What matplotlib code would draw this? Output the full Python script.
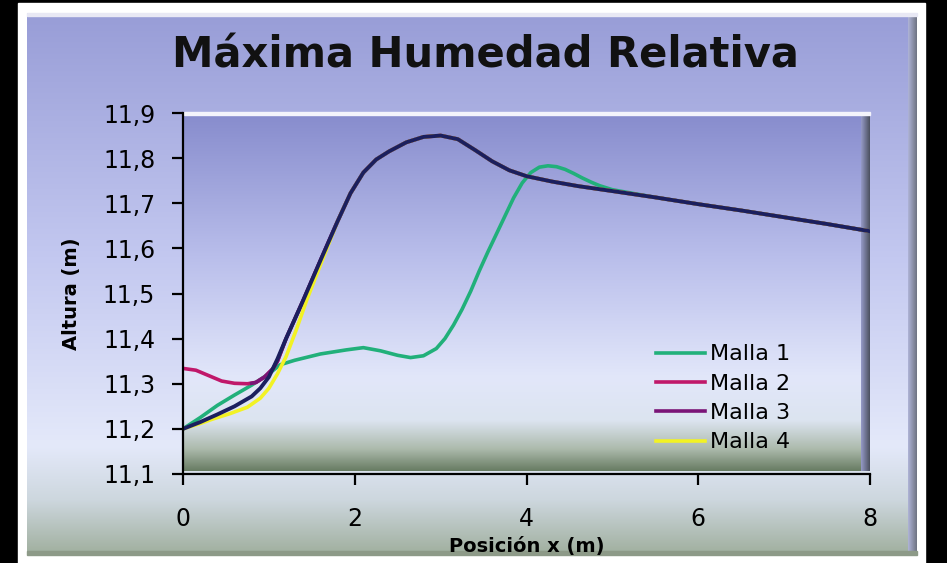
import numpy as np
import matplotlib.pyplot as plt
from matplotlib.patches import Rectangle

# Malla 1
x_m1 = [0, 0.2, 0.4, 0.6, 0.8, 1.0, 1.13, 1.3, 1.6, 1.9, 2.1, 2.3, 2.5, 2.65, 2.8,
        2.95, 3.05, 3.15, 3.25, 3.35, 3.45, 3.55, 3.65, 3.75, 3.85, 3.95, 4.05, 4.15,
        4.25, 4.35, 4.45, 4.55, 4.65, 4.75, 4.85, 5.0, 5.5, 6.0, 6.5, 7.0, 7.5, 8.0]
y_m1 = [11.2, 11.225, 11.252, 11.275, 11.297, 11.322, 11.342, 11.352, 11.366, 11.375,
        11.38, 11.373, 11.363, 11.358, 11.362, 11.378, 11.4, 11.43, 11.465, 11.505,
        11.55, 11.592, 11.632, 11.672, 11.712, 11.745, 11.768, 11.78, 11.783, 11.781,
        11.775, 11.766, 11.756, 11.747, 11.739, 11.73, 11.713, 11.698, 11.684, 11.669,
        11.654, 11.638]

# Malla 2
x_m2 = [0, 0.15, 0.3, 0.45, 0.6, 0.75, 0.85, 0.95, 1.05, 1.1, 1.2, 1.4, 1.6, 1.8,
        1.95, 2.1, 2.25, 2.4, 2.6, 2.8, 3.0, 3.2, 3.4, 3.6, 3.8, 4.0, 4.3, 4.6, 5.0,
        5.5, 6.0, 6.5, 7.0, 7.5, 8.0]
y_m2 = [11.334, 11.33, 11.318, 11.306, 11.301, 11.3, 11.303, 11.315, 11.334, 11.35,
        11.4, 11.485, 11.573, 11.66, 11.722, 11.768, 11.797, 11.815, 11.835, 11.847,
        11.85, 11.842, 11.818, 11.793, 11.773, 11.76, 11.748, 11.738, 11.727, 11.713,
        11.698, 11.684, 11.669, 11.654, 11.638]

# Malla 3
x_m3 = [0.8, 0.85, 0.95, 1.05, 1.1, 1.2, 1.4, 1.6, 1.8, 1.95, 2.1, 2.25, 2.4, 2.6,
        2.8, 3.0, 3.2, 3.4, 3.6, 3.8, 4.0, 4.3, 4.6, 5.0, 5.5, 6.0, 6.5, 7.0, 7.5, 8.0]
y_m3 = [11.301, 11.303, 11.315, 11.334, 11.35, 11.4, 11.485, 11.573, 11.66, 11.722,
        11.768, 11.797, 11.815, 11.835, 11.847, 11.85, 11.842, 11.818, 11.793, 11.773,
        11.76, 11.748, 11.738, 11.727, 11.713, 11.698, 11.684, 11.669, 11.654, 11.638]

# Malla 4
x_m4 = [0, 0.2, 0.35, 0.55, 0.75, 0.9, 1.0, 1.1, 1.2, 1.32, 1.44, 1.62, 1.8, 1.95,
        2.1, 2.25, 2.4, 2.6, 2.8, 3.0, 3.2, 3.4, 3.6, 3.8, 4.0, 4.3, 4.6, 5.0, 5.5,
        6.0, 6.5, 7.0, 7.5, 8.0]
y_m4 = [11.2, 11.212, 11.222, 11.234, 11.248, 11.268, 11.29, 11.322, 11.36, 11.42,
        11.485, 11.573, 11.66, 11.722, 11.768, 11.797, 11.815, 11.835, 11.847, 11.85,
        11.842, 11.818, 11.793, 11.773, 11.76, 11.748, 11.738, 11.727, 11.713,
        11.698, 11.684, 11.669, 11.654, 11.638]

# serie sin leyenda (azul oscuro)
x_m5 = [0, 0.2, 0.4, 0.6, 0.8, 0.9, 1.0, 1.1, 1.2, 1.4, 1.6, 1.8, 1.95, 2.1, 2.25,
        2.4, 2.6, 2.8, 3.0, 3.2, 3.4, 3.6, 3.8, 4.0, 4.3, 4.6, 5.0, 5.5, 6.0, 6.5,
        7.0, 7.5, 8.0]
y_m5 = [11.2, 11.215, 11.232, 11.25, 11.272, 11.29, 11.315, 11.355, 11.4, 11.485,
        11.573, 11.66, 11.722, 11.768, 11.797, 11.815, 11.835, 11.847, 11.85, 11.842,
        11.818, 11.793, 11.773, 11.76, 11.748, 11.738, 11.727, 11.713, 11.698,
        11.684, 11.669, 11.654, 11.638]

y_ticks = [11.1, 11.2, 11.3, 11.4, 11.5, 11.6, 11.7, 11.8, 11.9]
y_tick_labels = ['11,1', '11,2', '11,3', '11,4', '11,5', '11,6', '11,7', '11,8', '11,9']
x_ticks = [0, 2, 4, 6, 8]

W, H = 947, 563
fig = plt.figure(figsize=(W / 100, H / 100), dpi=100, facecolor='black')

# fondo en pixeles
bg = fig.add_axes([0, 0, 1, 1])
bg.set_xlim(0, W)
bg.set_ylim(H, 0)
bg.axis('off')


def vgrad(ax, x0, x1, y0, y1, stops, z):
    pos = [s[0] for s in stops]
    cols = np.array([s[1] for s in stops]) / 255.0
    t = np.linspace(0, 1, 256)
    img = np.stack([np.interp(t, pos, cols[:, k]) for k in range(3)], axis=1)
    ax.imshow(img[:, None, :], extent=(x0, x1, y1, y0), aspect='auto',
              interpolation='bilinear', zorder=z)


def hgrad(ax, x0, x1, y0, y1, c0, c1, z):
    t = np.linspace(0, 1, 64)
    c0 = np.array(c0) / 255.0
    c1 = np.array(c1) / 255.0
    img = c0[None, :] * (1 - t[:, None]) + c1[None, :] * t[:, None]
    ax.imshow(img[None, :, :], extent=(x0, x1, y1, y0), aspect='auto',
              interpolation='bilinear', zorder=z)


bg.add_patch(Rectangle((18, 3), 907, 562, color='white', zorder=1))
panel_stops = [(0.0, (152, 157, 215)), (0.45, (195, 200, 240)), (0.8, (228, 233, 250)),
               (0.9, (205, 215, 222)), (1.0, (160, 175, 158))]
vgrad(bg, 27, 917, 13, 555, panel_stops, 2)
hgrad(bg, 908, 917, 13, 555, (175, 180, 215), (110, 115, 130), 3)
bg.add_patch(Rectangle((27, 13), 890, 3, color='#e8e8f4', zorder=3))
bg.add_patch(Rectangle((27, 551), 890, 4, color='#8d9a88', zorder=3))

plot_stops = [(0.0, (135, 140, 205)), (0.4, (185, 190, 235)), (0.74, (226, 231, 250)),
              (0.86, (220, 228, 240)), (0.94, (172, 186, 172)), (1.0, (105, 125, 100))]
vgrad(bg, 184, 870, 113, 471, plot_stops, 2)
hgrad(bg, 861, 870, 113, 471, (150, 155, 200), (75, 80, 95), 3)
bg.add_patch(Rectangle((184, 112), 686, 3, color='#f4f4fb', zorder=3))

ax = fig.add_axes([183 / W, (H - 474) / H, (870 - 183) / W, (474 - 113) / H])
ax.set_facecolor('none')
ax.set_xlim(0, 8)
ax.set_ylim(11.1, 11.9)

lw = 2.6
ax.plot(x_m1, y_m1, color='#21b07a', lw=lw, label='Malla 1', solid_joinstyle='round')
ax.plot(x_m2, y_m2, color='#c0186a', lw=lw, label='Malla 2', solid_joinstyle='round')
ax.plot(x_m3, y_m3, color='#7a1477', lw=lw, label='Malla 3', solid_joinstyle='round')
ax.plot(x_m4, y_m4, color='#f2f224', lw=lw, label='Malla 4', solid_joinstyle='round')
ax.plot(x_m5, y_m5, color='#1b1f5e', lw=2.8, solid_joinstyle='round')

for s in ['top', 'right']:
    ax.spines[s].set_visible(False)
for s in ['left', 'bottom']:
    ax.spines[s].set_linewidth(1.6)
    ax.spines[s].set_color('black')

ax.set_yticks(y_ticks)
ax.set_yticklabels(y_tick_labels)
ax.set_xticks(x_ticks)
ax.tick_params(axis='both', direction='out', length=8, width=1.6, labelsize=17,
               colors='black')
ax.tick_params(axis='y', pad=12)
ax.tick_params(axis='x', pad=16)

ax.set_xlabel('Posición x (m)', fontsize=14, fontweight='bold', labelpad=4)
ax.set_ylabel('Altura (m)', fontsize=14, fontweight='bold', labelpad=16)

fig.text(485 / W, 1 - 56 / H, 'Máxima Humedad Relativa', fontsize=30,
         fontweight='bold', ha='center', va='center', color='#111111')

ax.legend(loc='upper left', bbox_to_anchor=(0.673, 0.39), frameon=False,
          fontsize=16, handlelength=2.2, handletextpad=0.2, labelspacing=0.42,
          borderpad=0)

fig.savefig('out.png', dpi=100, facecolor='black')
